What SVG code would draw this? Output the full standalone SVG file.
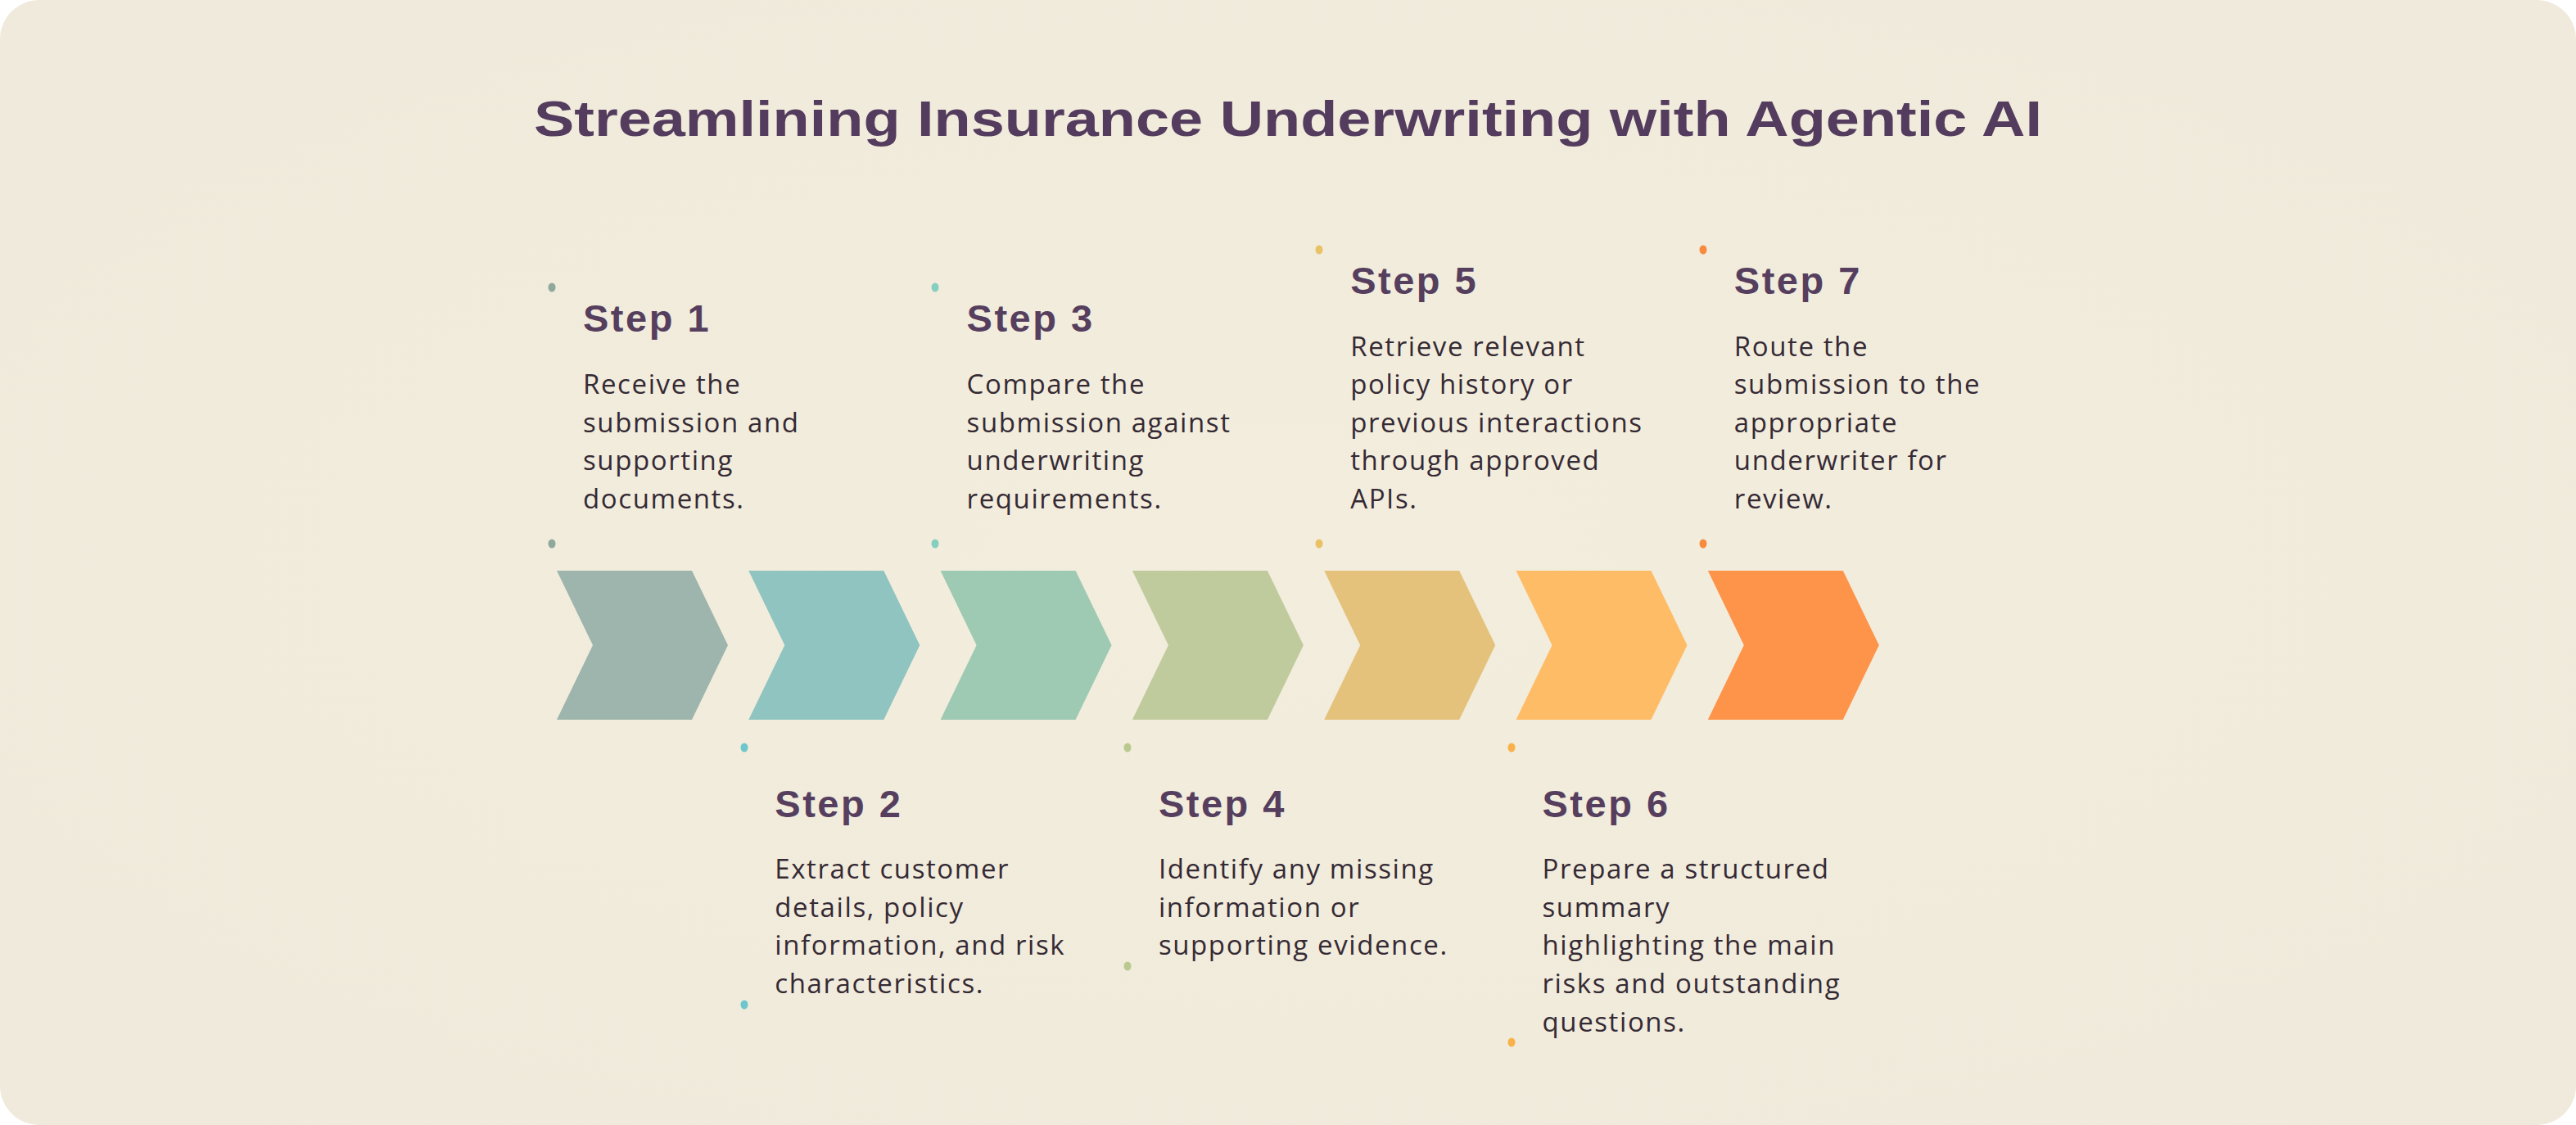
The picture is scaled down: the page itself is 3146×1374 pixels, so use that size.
<svg xmlns="http://www.w3.org/2000/svg" width="3146" height="1374" viewBox="0 0 3146 1374">
<defs>
<radialGradient id="bg" cx="50%" cy="50%" r="65%">
<stop offset="0" stop-color="#f3eddd"/>
<stop offset="1" stop-color="#efeadb"/>
</radialGradient>
<polygon id="chev" points="0,0 165,0 209,91 165,182 0,182 44,91"/>
<style>
.title{font-family:"Liberation Sans","DejaVu Sans",sans-serif;font-weight:700;font-size:62px;fill:#543c5e;}
.head{font-family:"Liberation Sans","DejaVu Sans",sans-serif;font-weight:700;font-size:47px;fill:#563f5e;letter-spacing:2.5px;}
.body{font-family:"Open Sans","Liberation Sans",sans-serif;font-weight:400;font-size:33px;fill:#352a34;letter-spacing:1.6px;}
</style>
</defs>
<rect width="3146" height="1374" fill="#ffffff"/>
<rect x="0" y="0" width="3146" height="1374" rx="48" ry="48" fill="url(#bg)"/>
<text class="title" x="1573" y="166" text-anchor="middle" textLength="1842" lengthAdjust="spacingAndGlyphs">Streamlining Insurance Underwriting with Agentic AI</text>
<g id="connectors"></g>

<g id="step-1">
<use href="#chev" x="680" y="697" fill="#9db5ac"/>
<ellipse cx="674" cy="351" rx="4.5" ry="5.5" fill="#8fa89c"/>
<ellipse cx="674" cy="664" rx="4.5" ry="5.5" fill="#8fa89c"/>
<text class="head" x="712" y="405">Step 1</text>
<text class="body" x="712" y="481">Receive the</text>
<text class="body" x="712" y="527.5">submission and</text>
<text class="body" x="712" y="574">supporting</text>
<text class="body" x="712" y="620.5">documents.</text>
</g>

<g id="step-2">
<use href="#chev" x="914.3" y="697" fill="#8fc4c0"/>
<ellipse cx="909" cy="913" rx="4.5" ry="5.5" fill="#6ec6cd"/>
<ellipse cx="909" cy="1227" rx="4.5" ry="5.5" fill="#6ec6cd"/>
<text class="head" x="946.3" y="998">Step 2</text>
<text class="body" x="946.3" y="1073">Extract customer</text>
<text class="body" x="946.3" y="1119.7">details, policy</text>
<text class="body" x="946.3" y="1166.3">information, and risk</text>
<text class="body" x="946.3" y="1213">characteristics.</text>
</g>

<g id="step-3">
<use href="#chev" x="1148.6" y="697" fill="#9ecab3"/>
<ellipse cx="1142" cy="351" rx="4.5" ry="5.5" fill="#86cfc0"/>
<ellipse cx="1142" cy="664" rx="4.5" ry="5.5" fill="#86cfc0"/>
<text class="head" x="1180.6" y="405">Step 3</text>
<text class="body" x="1180.6" y="481">Compare the</text>
<text class="body" x="1180.6" y="527.5">submission against</text>
<text class="body" x="1180.6" y="574">underwriting</text>
<text class="body" x="1180.6" y="620.5">requirements.</text>
</g>

<g id="step-4">
<use href="#chev" x="1382.9" y="697" fill="#bfcb9d"/>
<ellipse cx="1377" cy="913" rx="4.5" ry="5.5" fill="#b9c98f"/>
<ellipse cx="1377" cy="1180" rx="4.5" ry="5.5" fill="#b9c98f"/>
<text class="head" x="1414.9" y="998">Step 4</text>
<text class="body" x="1414.9" y="1073">Identify any missing</text>
<text class="body" x="1414.9" y="1119.7">information or</text>
<text class="body" x="1414.9" y="1166.3">supporting evidence.</text>
</g>

<g id="step-5">
<use href="#chev" x="1617.2" y="697" fill="#e4c27b"/>
<ellipse cx="1611" cy="305" rx="4.5" ry="5.5" fill="#e9c266"/>
<ellipse cx="1611" cy="664" rx="4.5" ry="5.5" fill="#e9c266"/>
<text class="head" x="1649.2" y="358.5">Step 5</text>
<text class="body" x="1649.2" y="434.5">Retrieve relevant</text>
<text class="body" x="1649.2" y="481">policy history or</text>
<text class="body" x="1649.2" y="527.5">previous interactions</text>
<text class="body" x="1649.2" y="574">through approved</text>
<text class="body" x="1649.2" y="620.5">APIs.</text>
</g>

<g id="step-6">
<use href="#chev" x="1851.5" y="697" fill="#ffbc66"/>
<ellipse cx="1846" cy="913" rx="4.5" ry="5.5" fill="#f9b24a"/>
<ellipse cx="1846" cy="1273" rx="4.5" ry="5.5" fill="#f9b24a"/>
<text class="head" x="1883.5" y="998">Step 6</text>
<text class="body" x="1883.5" y="1073">Prepare a structured</text>
<text class="body" x="1883.5" y="1119.7">summary</text>
<text class="body" x="1883.5" y="1166.3">highlighting the main</text>
<text class="body" x="1883.5" y="1213">risks and outstanding</text>
<text class="body" x="1883.5" y="1259.7">questions.</text>
</g>

<g id="step-7">
<use href="#chev" x="2085.8" y="697" fill="#fe944a"/>
<ellipse cx="2080" cy="305" rx="4.5" ry="5.5" fill="#f78a3c"/>
<ellipse cx="2080" cy="664" rx="4.5" ry="5.5" fill="#f78a3c"/>
<text class="head" x="2117.8" y="358.5">Step 7</text>
<text class="body" x="2117.8" y="434.5">Route the</text>
<text class="body" x="2117.8" y="481">submission to the</text>
<text class="body" x="2117.8" y="527.5">appropriate</text>
<text class="body" x="2117.8" y="574">underwriter for</text>
<text class="body" x="2117.8" y="620.5">review.</text>
</g>
</svg>
